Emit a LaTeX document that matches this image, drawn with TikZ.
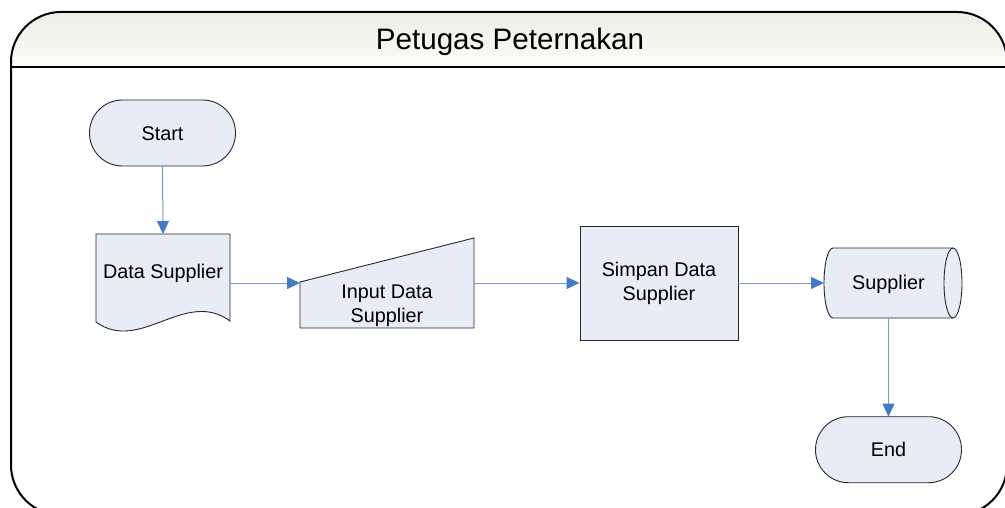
\documentclass[tikz,border=0pt]{standalone}
\usepackage{fontspec}
\setmainfont{Liberation Sans}
\usetikzlibrary{arrows.meta}

\definecolor{shapefill}{RGB}{231,236,247}
\definecolor{shapeline}{RGB}{40,40,40}
\definecolor{flowline}{RGB}{120,155,212}
\definecolor{flowhead}{RGB}{70,122,198}
\definecolor{headtop}{RGB}{238,238,229}
\definecolor{headbot}{RGB}{251,251,248}

\tikzset{
  shapebox/.style={fill=shapefill, draw=shapeline, line width=0.9pt},
  anchorbox/.style={draw=none, inner sep=0pt, outer sep=0pt},
  lbl/.style={font=\fontsize{19.8}{23.8}\selectfont, align=center, inner sep=0pt},
  onelbl/.style={lbl, text height=14.2pt, text depth=0pt},
  flow/.style={draw=flowline, line width=1pt,
    -{Triangle[length=13pt,width=12pt,fill=flowhead,color=flowhead]}},
  terminal/.style={shapebox, rounded corners=32.9pt, minimum width=146pt,
    minimum height=66pt, inner sep=0pt, outer sep=0pt,
    font=\fontsize{19.8}{23.8}\selectfont, text height=14.2pt, text depth=0pt},
}

\begin{document}
\begin{tikzpicture}[x=1pt, y=-1pt]
  \useasboundingbox (0,0) rectangle (1005,508);
  \clip (0,0) rectangle (1005,508);

  % swimlane frame with shaded header
  \shade[top color=headtop, bottom color=headbot]
    (11,66.7) -- (11,62) arc[start angle=180, end angle=90, radius=50pt]
    -- (957,12) arc[start angle=90, end angle=0, radius=50pt] -- (1007,66.7) -- cycle;
  \draw[line width=2pt, rounded corners=50pt]
    (11,12) rectangle (1007,515);
  \draw[line width=2pt] (11,66.7) -- (1007,66.7);
  \node[font=\fontsize{29.6}{34}\selectfont, inner sep=0pt, text height=21.2pt, text depth=0pt]
    (lane) at (510,38.7) {Petugas Peternakan};

  % Start
  \node[terminal] (start) at (162.5,133) {Start};

  % Data Supplier (document)
  \node[anchorbox, minimum width=134pt, minimum height=98pt] (doc) at (163,283) {};
  \path[shapebox] (96,234) -- (230,234) -- (230,321)
    .. controls (185,288) and (140,354) .. (96,322) -- cycle;
  \node[onelbl] (doctxt) at (163,271.2) {Data Supplier};

  % Input Data Supplier (manual input)
  \node[anchorbox, minimum width=174pt, minimum height=90pt] (inp) at (387,283) {};
  \path[shapebox] (300,282) -- (474,238) -- (474,328) -- (300,328) -- cycle;
  \node[lbl] (inptxt) at (387,306) {Input Data\\Supplier};

  % Simpan Data Supplier (process)
  \node[shapebox, lbl, minimum width=158pt, minimum height=114pt] (proc) at (659,283)
    {Simpan Data\\Supplier};

  % Supplier (stored data)
  \node[anchorbox, minimum width=129pt, minimum height=70pt] (store) at (888.5,283) {};
  \path[shapebox] (953,248) -- (833,248)
    arc[start angle=90, end angle=270, x radius=9pt, y radius=35pt]
    -- (953,318)
    arc[start angle=-90, end angle=90, x radius=9pt, y radius=35pt] -- cycle;
  \draw[draw=shapeline, line width=0.9pt] (953,248)
    arc[start angle=90, end angle=270, x radius=9pt, y radius=35pt];
  \node[onelbl] (storetxt) at (888.5,282.2) {Supplier};

  % End
  \node[terminal] (end) at (888.5,449.7) {End};

  % flow connectors
  \draw[flow] (start.south) -- (doc.north);
  \draw[flow] (doc.east) -- (inp.west);
  \draw[flow] (inp.east) -- (proc.west);
  \draw[flow] (proc.east) -- (store.west);
  \draw[flow] (store.south) -- (end.north);
\end{tikzpicture}
\end{document}
